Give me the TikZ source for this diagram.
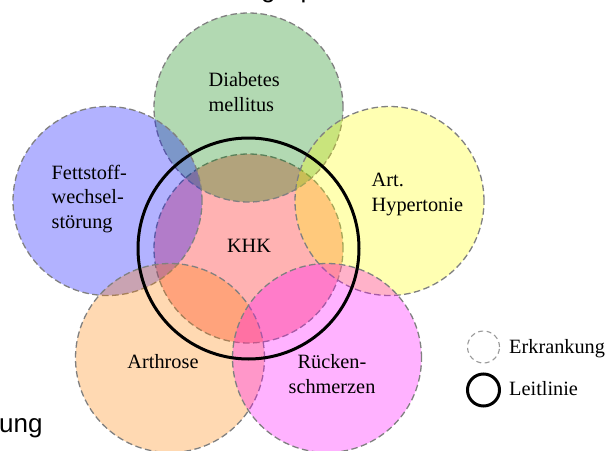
\documentclass[tikz,border=0pt]{standalone}
\usepackage{fontspec}
\setmainfont{Liberation Serif}
\newfontfamily\captionfont{Liberation Sans}
\definecolor{cRed}{RGB}{255,0,0}
\definecolor{cGreen}{RGB}{0,128,0}
\definecolor{cBlue}{RGB}{0,0,255}
\definecolor{cYellow}{RGB}{255,255,0}
\definecolor{cOrange}{RGB}{255,128,0}
\definecolor{cMagenta}{RGB}{255,0,255}
\begin{document}
\begin{tikzpicture}[x=1pt,y=-1pt,
  disease/.style={circle, minimum size=189pt, inner sep=0pt,
    fill opacity=0.3, draw=black!50, draw opacity=1,
    dash pattern=on 6.5pt off 3.5pt, line width=1.3pt},
  guideline/.style={circle, inner sep=0pt, draw=black, line width=3pt},
  label/.style={inner sep=0pt, font=\fontsize{20.3}{24.5}\selectfont},
  legendtext/.style={inner sep=0pt, anchor=base west, font=\fontsize{20.3}{24}\selectfont},
  cut/.style={inner sep=0pt, anchor=base west, font=\captionfont\fontsize{26}{30}\selectfont}]
\useasboundingbox (0,0) rectangle (608,450);

% overlapping disease circles
\node[disease, fill=cRed]     (khk) at (248.5,248.5) {};
\node[disease, fill=cGreen]   (dm)  at (248.5,107.5) {};
\node[disease, fill=cBlue]    (fs)  at (107.5,201)   {};
\node[disease, fill=cYellow]  (ah)  at (389.5,201)   {};
\node[disease, fill=cOrange]  (ar)  at (170,358)     {};
\node[disease, fill=cMagenta] (rs)  at (327,358)     {};

% guideline circle around the index disease
\node[guideline, minimum size=221pt] (ll) at (khk.center) {};

% disease labels (base anchor = baseline of the last line)
\node[label, anchor=base west, align=left] (tdm) at (208.5,111) {Diabetes\\mellitus};
\node[label, anchor=base west, align=left] (tfs) at (51.5,228) {Fettstoff-\\wechsel-\\störung};
\node[label, anchor=base west, align=left] (tah) at (371.5,211) {Art.\\Hypertonie};
\node[label, anchor=base] (tkhk) at (249,252) {KHK};
\node[label, anchor=base] (tar) at (163,368) {Arthrose};
\node[label, anchor=base, align=center] (trs) at (332,393) {Rücken-\\schmerzen};

% legend
\node[circle, minimum size=32pt, inner sep=0pt, draw=black!40, line width=1.1pt,
      dash pattern=on 5pt off 3.5pt] (legdis) at (483.5,347) {};
\node[legendtext] (legdistext) at (509,353) {Erkrankung};
\node[circle, minimum size=32pt, inner sep=0pt, draw=black, line width=3pt] (legll) at (483.5,390) {};
\node[legendtext] (leglltext) at (509,395) {Leitlinie};

% caption lines running past the page edges
\node[cut] (capbot) at (-1,432) {ung};
\node[cut] (captopg) at (261,-3) {g};
\node[cut] (captopp) at (300.5,-3) {p};
\end{tikzpicture}
\end{document}
